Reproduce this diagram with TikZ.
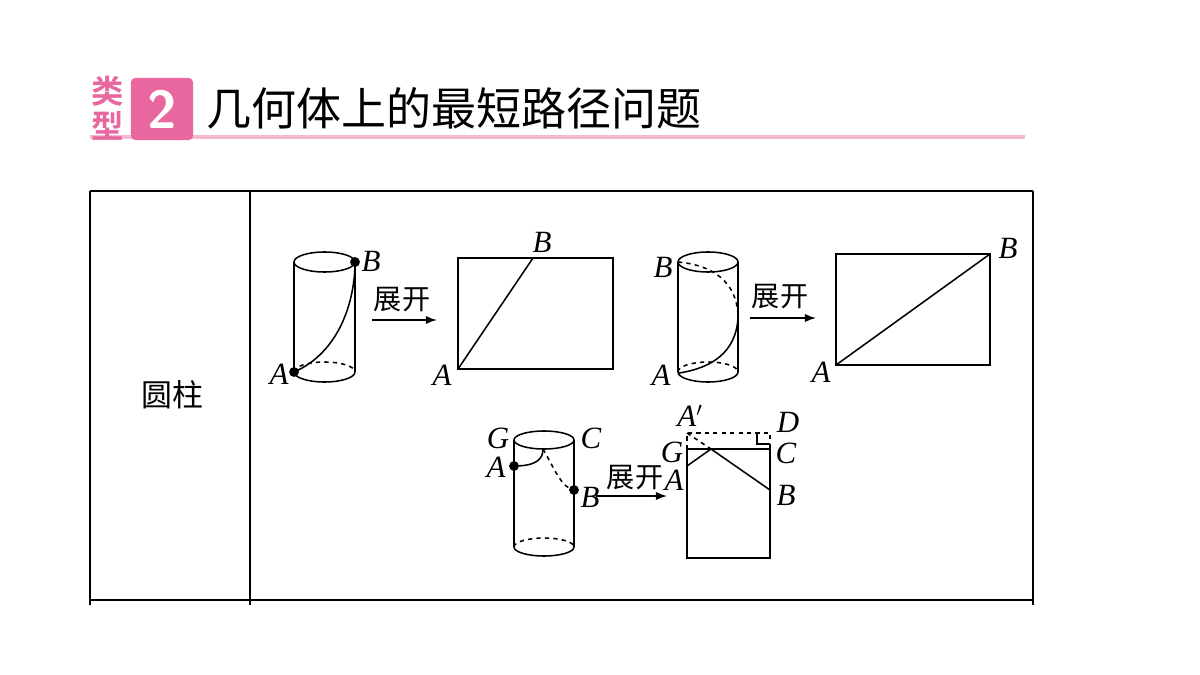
\documentclass[tikz,border=0pt]{standalone}
\usepackage{fontspec}
\newfontfamily\cjk{Noto Sans CJK SC}
\newfontfamily\cjkbold{Noto Sans CJK SC Bold}
\newfontfamily\lbl{Liberation Serif}
\usetikzlibrary{arrows.meta}
\definecolor{rosa}{HTML}{E8679F}
\definecolor{rosalight}{HTML}{F4B8CF}
\begin{document}
\begin{tikzpicture}
[
x=0.025cm, y=-0.025cm,
line width=1.1pt,
lab/.style={inner sep=0pt, font=\fontsize{22}{22}\selectfont\lbl\itshape},
zh/.style={inner sep=0pt, font=\fontsize{20}{20}\selectfont\cjk},
dot/.style={circle, fill, inner sep=0pt, minimum size=7pt},
arr/.style={-{Latex[length=8pt,width=6pt]}}
]
\useasboundingbox (0,0) rectangle (1200,675);

% heading
\draw[rosalight, line width=3.5pt] (90,137) -- (1025,137);
\node[inner sep=0pt, text=rosa, font=\fontsize{23}{23}\selectfont\cjkbold] (lei) at (108,91) {类};
\node[inner sep=0pt, text=rosa, font=\fontsize{23}{23}\selectfont\cjkbold] (xing) at (108,126) {型};
\node[fill=rosa, rounded corners=3pt, inner sep=0pt,
      minimum size=1.55cm, text=white, font=\fontsize{38}{38}\selectfont\sffamily\bfseries] (num) at (162,109) {2};
\node[anchor=west, inner sep=0pt, font=\fontsize{32}{32}\selectfont\cjk] (title) at (206,108) {几何体上的最短路径问题};

% table
\draw[line width=1.8pt] (90,191) -- (1033,191);
\draw (90,191) -- (90,605) (250,191) -- (250,605) (1033,191) -- (1033,605);
\draw (90,600) -- (1033,600);
\node[inner sep=0pt, font=\fontsize{22}{22}\selectfont\cjk] (yz) at (172,395) {圆柱};

% cylinder 1
\draw (324.5,262) ellipse (30.5 and 10);
\draw (294,262) -- (294,372) (355,262) -- (355,372);
\draw (294,372) arc (180:0:30.5 and 10);
\draw[dashed] (294,372) arc (180:360:30.5 and 10);
\node[dot] (a1) at (294,372) {};
\node[dot] (b1) at (355,262) {};
\draw (a1.center) .. controls (340,352) and (355,300) .. (b1.center);
\node[lab] at (371,261) {B};
\node[lab] at (279,374) {A};
\node[zh] (zk1) at (402,300) {展开};
\draw[arr] (372,320) -- (437,320);
% net 1
\draw (458,258) rectangle (613,369);
\coordinate (na1) at (458,369);
\coordinate (nb1) at (533,258);
\draw (na1) -- (nb1);
\node[lab] at (542,242) {B};
\node[lab] at (442,375) {A};

% cylinder 2
\draw (708,262) ellipse (30 and 10);
\draw (678,262) -- (678,372) (738,262) -- (738,372);
\draw (678,372) arc (180:0:30 and 10);
\draw[dashed] (678,372) arc (180:360:30 and 10);
\coordinate (b2) at (678,262);
\coordinate (m2) at (738,318);
\coordinate (a2) at (679,373);
\draw[dashed] (b2) .. controls (722,266) and (738,290) .. (m2);
\draw (m2) .. controls (736,352) and (712,368) .. (a2);
\node[lab] at (663,267) {B};
\node[lab] at (661,375) {A};
\node[zh] (zk2) at (780,297) {展开};
\draw[arr] (750,318) -- (816,318);
% net 2
\draw (836,254) rectangle (990,365);
\coordinate (na2) at (836,365);
\coordinate (nb2) at (990,254);
\draw (na2) -- (nb2);
\node[lab] at (1008,248) {B};
\node[lab] at (821,372) {A};

% cylinder 3
\draw (544,440) ellipse (30 and 9);
\draw (514,440) -- (514,547) (574,440) -- (574,547);
\draw (514,547) arc (180:0:30 and 9);
\draw[dashed] (514,547) arc (180:360:30 and 9);
\node[dot] (a3) at (514,466) {};
\node[dot] (b3) at (574,490) {};
\coordinate (p3) at (543,449);
\draw (a3.center) .. controls (535,466) and (543,460) .. (p3);
\draw[dashed] (p3) .. controls (555,470) and (562,488) .. (b3.center);
\node[lab] at (498,438) {G};
\node[lab] at (591,438) {C};
\node[lab] at (496,467) {A};
\node[lab] at (590,497) {B};
\node[zh] (zk3) at (635,478) {展开};
\draw[arr] (596,496) -- (667,496);
% net 3
\draw (687,449) rectangle (770,558);
\draw[dashed] (687,449) -- (687,433) -- (770,433) -- (770,449);
\draw (757,433) -- (757,444) -- (770,444);
\coordinate (ap) at (687,433);
\coordinate (na3) at (687,466);
\coordinate (pk) at (711,449);
\coordinate (nb3) at (770,490);
\draw[dashed] (ap) -- (pk);
\draw (na3) -- (pk) -- (nb3);
\node[lab] at (690,416) {A$'$};
\node[lab] at (788,422) {D};
\node[lab] at (672,452) {G};
\node[lab] at (786,453) {C};
\node[lab] at (674,480) {A};
\node[lab] at (786,495) {B};
\end{tikzpicture}
\end{document}
